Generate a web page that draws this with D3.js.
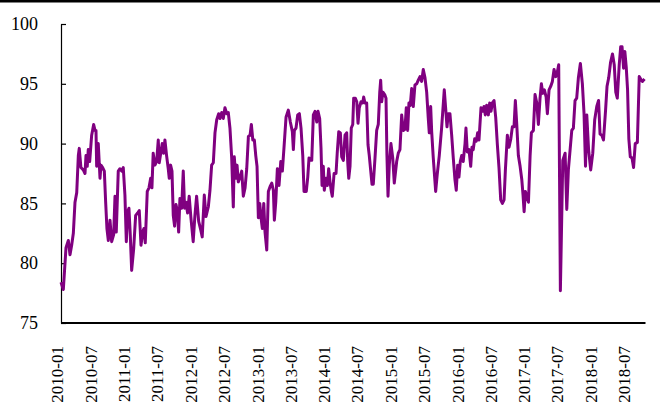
<!DOCTYPE html>
<html><head><meta charset="utf-8">
<script src="https://cdn.jsdelivr.net/npm/d3@7/dist/d3.min.js"></script>
<style>body{margin:0;background:#fff}svg{display:block}</style>
</head><body><svg id="c" width="660" height="407"></svg>
<script>
// decimal-year positions of the traced points
const times = [2010.060,2010.095,2010.135,2010.170,2010.195,2010.220,2010.245,2010.270,2010.296,2010.320,2010.334,2010.359,2010.394,2010.420,2010.435,2010.454,2010.469,2010.490,2010.520,2010.550,2010.570,2010.585,2010.595,2010.619,2010.645,2010.660,2010.685,2010.710,2010.730,2010.749,2010.770,2010.795,2010.820,2010.850,2010.870,2010.889,2010.919,2010.944,2010.971,2010.994,2011.019,2011.040,2011.060,
2011.079,2011.099,2011.120,2011.150,2011.180,2011.210,2011.234,2011.260,2011.285,2011.304,2011.324,2011.354,2011.380,2011.405,2011.424,2011.443,2011.469,2011.495,2011.519,2011.534,2011.559,2011.578,2011.600,2011.619,2011.644,2011.669,2011.684,2011.704,2011.725,2011.744,2011.764,2011.785,2011.804,2011.825,2011.844,2011.870,2011.894,2011.914,2011.934,2011.959,2011.983,2012.009,2012.043,2012.069,
2012.094,2012.125,2012.155,2012.178,2012.209,2012.234,2012.269,2012.294,2012.319,2012.344,2012.369,2012.395,2012.424,2012.444,2012.470,2012.493,2012.518,2012.545,2012.568,2012.593,2012.619,2012.643,2012.658,2012.680,2012.699,2012.718,2012.744,2012.769,2012.793,2012.819,2012.844,2012.869,2012.894,2012.913,2012.935,2012.958,2012.979,2012.998,2013.018,2013.039,2013.058,2013.078,2013.099,
2013.118,2013.144,2013.168,2013.193,2013.219,2013.243,2013.258,2013.279,2013.303,2013.328,2013.354,2013.378,2013.403,2013.433,2013.467,2013.498,2013.528,2013.543,2013.558,2013.583,2013.608,2013.633,2013.658,2013.684,2013.703,2013.737,2013.759,2013.778,2013.793,2013.819,2013.843,2013.868,2013.894,2013.913,2013.938,2013.958,2013.973,2013.992,2014.007,2014.033,2014.053,2014.073,2014.093,2014.113,
2014.127,2014.154,2014.183,2014.202,2014.224,2014.248,2014.268,2014.293,2014.318,2014.343,2014.359,2014.374,2014.393,2014.412,2014.434,2014.448,2014.472,2014.494,2014.513,2014.532,2014.558,2014.583,2014.598,2014.617,2014.643,2014.663,2014.682,2014.704,2014.723,2014.742,2014.768,2014.793,2014.817,2014.839,2014.853,2014.868,2014.887,2014.913,2014.933,2014.947,2014.963,2014.982,2015.007,2015.034,2015.057,2015.093,2015.117,
2015.142,2015.168,2015.192,2015.217,2015.237,2015.258,2015.277,2015.297,2015.318,2015.342,2015.367,2015.393,2015.417,2015.443,2015.468,2015.492,2015.518,2015.543,2015.566,2015.582,2015.603,2015.618,2015.642,2015.678,2015.701,2015.732,2015.767,2015.807,2015.827,2015.848,2015.867,2015.892,2015.918,2015.942,2015.967,2015.987,2016.008,2016.027,2016.047,2016.068,2016.091,2016.118,2016.132,
2016.152,2016.177,2016.203,2016.222,2016.241,2016.263,2016.286,2016.307,2016.327,2016.357,2016.382,2016.402,2016.421,2016.442,2016.467,2016.487,2016.507,2016.527,2016.552,2016.577,2016.602,2016.627,2016.652,2016.677,2016.702,2016.721,2016.751,2016.776,2016.803,2016.826,2016.851,2016.871,2016.892,2016.916,2016.942,2016.967,2016.986,2017.002,2017.021,2017.042,2017.067,2017.092,2017.111,2017.141,
2017.166,2017.192,2017.216,2017.241,2017.261,2017.282,2017.306,2017.332,2017.351,2017.376,2017.402,2017.426,2017.451,2017.477,2017.501,2017.521,2017.546,2017.582,2017.617,2017.642,2017.666,2017.717,2017.741,2017.766,2017.791,2017.816,2017.846,2017.876,2017.901,2017.923,2017.942,2017.969,2018.001,2018.032,2018.061,2018.092,2018.119,2018.141,2018.167,
2018.193,2018.224,2018.246,2018.271,2018.299,2018.328,2018.354,2018.377,2018.400,2018.429,2018.451,2018.471,2018.494,2018.513,2018.534,2018.554,2018.573,2018.595,2018.621,2018.644,2018.669,2018.701,2018.729,2018.761,2018.778,2018.808];
const values = [78.4,77.8,81.3,81.9,80.7,81.5,82.5,85.1,85.9,89.0,89.6,88.0,87.8,87.5,89.0,88.1,89.5,88.5,90.7,91.6,91.1,91.1,88.1,90.0,87.1,88.2,88.0,87.7,85.1,82.9,81.9,83.6,81.8,82.4,85.6,82.6,87.7,87.9,87.7,88.0,85.7,81.8,84.3,
84.6,82.4,79.4,81.2,84.0,84.2,84.4,81.5,82.6,82.9,81.7,86.0,86.3,87.1,86.3,89.2,88.2,88.5,90.3,88.4,89.3,90.0,89.2,90.3,89.0,87.9,87.1,88.2,87.7,84.0,83.1,84.9,84.4,82.6,85.4,84.6,87.7,84.6,85.1,84.2,85.6,83.8,81.8,84.0,
85.6,83.5,82.8,82.2,85.7,83.9,84.7,86.1,88.2,88.4,90.9,92.0,92.5,92.1,92.6,92.1,93.0,92.5,92.6,91.3,88.8,84.7,88.9,87.1,88.2,86.8,87.2,87.7,85.6,86.3,87.9,90.6,90.7,91.6,90.3,90.3,89.0,88.1,83.8,85.0,83.8,82.9,85.0,
82.6,81.1,86.0,86.4,86.7,86.1,83.6,85.1,87.9,86.5,88.5,87.7,89.7,92.2,92.8,91.8,91.0,89.5,91.1,91.3,92.4,92.5,91.3,89.0,86.0,86.0,87.2,88.8,88.6,88.6,92.4,92.7,91.8,92.7,92.1,89.6,86.5,88.1,86.1,87.1,86.5,87.9,86.8,86.0,
85.6,87.5,87.5,89.3,91.0,90.9,88.9,88.6,90.7,90.9,88.4,87.1,88.1,91.3,91.6,93.8,93.8,93.5,91.7,93.0,93.5,93.4,93.9,93.4,93.4,89.9,89.0,87.7,86.6,86.6,88.8,91.1,91.6,94.3,95.3,93.5,94.3,94.1,93.8,89.0,85.6,88.2,90.0,88.8,86.7,88.5,89.2,
89.5,92.4,91.1,91.2,93.0,91.1,93.4,93.2,94.6,93.1,94.9,95.0,95.3,95.6,95.2,96.2,95.5,94.3,92.2,90.9,93.1,91.0,88.8,86.0,87.4,89.0,91.3,94.5,93.0,91.4,92.5,92.5,90.7,88.8,87.0,86.1,88.2,87.2,88.5,89.0,88.5,90.0,91.3,
89.3,89.5,88.1,89.7,89.5,90.4,90.2,90.9,90.3,93.0,92.7,93.1,92.4,93.2,92.4,93.4,92.7,93.4,93.6,92.2,89.9,87.9,85.3,85.0,85.3,87.7,90.7,89.7,90.4,91.4,91.4,93.6,91.6,89.0,88.1,87.0,85.7,84.3,86.0,85.6,85.1,89.0,90.9,91.1,
94.1,93.4,91.6,93.8,95.0,94.2,94.5,93.9,92.5,94.5,94.8,95.2,96.2,95.6,96.0,96.6,77.7,88.6,89.2,84.5,87.8,91.1,91.3,93.6,93.8,95.5,96.7,95.0,92.5,88.1,92.4,89.5,87.8,89.2,92.0,93.1,93.6,90.8,90.7,
90.3,92.8,94.8,95.5,96.8,97.5,96.6,94.3,93.8,96.6,98.1,98.1,96.3,97.7,96.4,94.5,90.4,88.9,88.8,88.0,90.0,90.1,95.6,95.3,95.2,95.4];
const tickLabels = ["2010-01","2010-07","2011-01","2011-07","2012-01","2012-07","2013-01","2013-07","2014-01","2014-07","2015-01","2015-07","2016-01","2016-07","2017-01","2017-07","2018-01","2018-07"];
const yTicks = [75,80,85,90,95,100];

function dec2date(t){const y=Math.floor(t);const s=Date.UTC(y,0,1),e=Date.UTC(y+1,0,1);return new Date(s+(t-y)*(e-s));}
const data = times.map((t,i)=>({d:dec2date(t),v:values[i]}));

const svg = d3.select("#c");
const L=61,R=644.5,T=24,B=323;
const parseM = d3.utcParse("%Y-%m");
const x = d3.scaleUtc().domain([parseM(tickLabels[0]), data[data.length-1].d]).range([57,R]);
const y = d3.scaleLinear().domain([75,100]).range([B,T]);
const font = "'Liberation Serif','Times New Roman',serif";

svg.append("rect").attr("x",0).attr("y",0).attr("width",660).attr("height",2.5).attr("fill","#000");

const xa = svg.append("g").attr("transform",`translate(0,${B})`)
  .call(d3.axisBottom(x).tickValues(tickLabels.map(parseM)).tickFormat(d3.utcFormat("%Y-%m")).tickSize(0).tickSizeOuter(0));
xa.select(".domain").attr("stroke","#000").attr("stroke-width",2.2).attr("d",`M${L},0H${R+1}`);
xa.selectAll("text").attr("transform","rotate(-90)").attr("x",-23).attr("y",0).attr("dy","0.35em")
  .style("text-anchor","end").style("font-family",font).style("font-size","17px").attr("fill","#000");

const ya = svg.append("g").attr("transform",`translate(${L},0)`)
  .call(d3.axisLeft(y).tickValues(yTicks).tickSize(-5).tickSizeOuter(0).tickPadding(23));
ya.select(".domain").attr("stroke","#000").attr("stroke-width",1.2);
ya.selectAll(".tick line").attr("stroke","#000").attr("stroke-width",1.2);
ya.selectAll("text").style("font-family",font).style("font-size","18px").attr("fill","#000");

svg.append("path").datum(data)
  .attr("fill","none").attr("stroke","#800080").attr("stroke-width",3).attr("stroke-linejoin","round")
  .attr("d",d3.line().x(d=>x(d.d)).y(d=>y(d.v)));
</script></body></html>
